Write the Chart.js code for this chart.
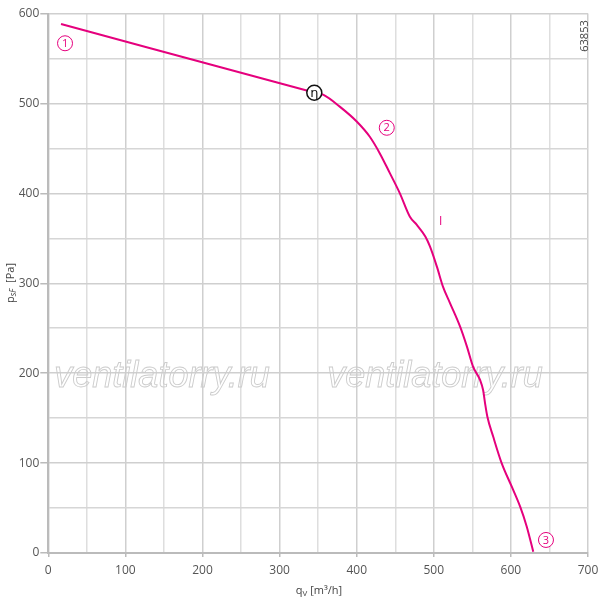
<!DOCTYPE html>
<html>
<head>
<meta charset="utf-8">
<script src="https://cdn.jsdelivr.net/npm/chart.js@4"></script>
<style>
  html, body { margin: 0; padding: 0; background: #fff; }
  #wrap { width: 600px; height: 601px; }
</style>
</head>
<body>
<div id="wrap"><canvas id="fanChart"></canvas></div>
<script>
// Curve: airflow qV [m3/h] vs static pressure psF [Pa]
const flowValues = [16.5, 346, 357, 378, 400, 417, 430, 443, 456, 469, 478, 489, 495, 504, 512, 521, 534, 543, 551, 560, 564, 566.5, 569.5, 577, 588, 601, 612, 620.5, 629];
const pressureValues = [588.5, 512, 509.5, 496.5, 480, 463, 444.5, 422.5, 400, 374, 365, 352, 341, 318.5, 296, 278, 252, 229.5, 207, 192.5, 181, 166.5, 151.5, 129.5, 100, 74, 51.5, 29.5, 1.5];
const xTicks = [0, 100, 200, 300, 400, 500, 600, 700];
const yTicks = [0, 100, 200, 300, 400, 500, 600];

// Marker labels on the curve: [qV, psF, text]
const curveMarks = [[21.7, 567, '1'], [439, 473, '2'], [645.5, 14.5, '3']];
const etaPoint = [345, 512];

const lineColor = '#e5007d';
const tickFont = { family: 'Open Sans', size: 12 };

const overlayPlugin = {
    id: 'overlay',
    beforeDatasetsDraw(chart) {
        const { ctx, scales: { x, y } } = chart;
        // watermark
        ctx.save();
        ctx.font = 'italic 36px "Liberation Sans"';
        ctx.textAlign = 'center';
        ctx.textBaseline = 'middle';
        ctx.strokeStyle = '#cccccc';
        ctx.lineWidth = 0.9;
        ctx.strokeText('ventilatorry.ru', x.getPixelForValue(147.5), y.getPixelForValue(196));
        ctx.strokeText('ventilatorry.ru', x.getPixelForValue(501.5), y.getPixelForValue(196));
        ctx.restore();
    },
    afterDraw(chart) {
        const { ctx, scales: { x, y } } = chart;
        ctx.save();
        ctx.textAlign = 'center';
        ctx.textBaseline = 'middle';

        // numbered circles
        curveMarks.forEach(([qv, p, label]) => {
            const px = x.getPixelForValue(qv), py = y.getPixelForValue(p);
            ctx.beginPath();
            ctx.arc(px, py, 7.5, 0, Math.PI * 2);
            ctx.fillStyle = '#fff';
            ctx.fill();
            ctx.strokeStyle = lineColor;
            ctx.lineWidth = 1;
            ctx.stroke();
            ctx.fillStyle = lineColor;
            ctx.font = '11px "Open Sans"';
            ctx.fillText(label, px, py + 0.5);
        });

        // efficiency point
        const ex = x.getPixelForValue(etaPoint[0]), ey = y.getPixelForValue(etaPoint[1]);
        ctx.beginPath();
        ctx.arc(ex, ey, 7.5, 0, Math.PI * 2);
        ctx.fillStyle = '#fff';
        ctx.fill();
        ctx.strokeStyle = '#111';
        ctx.lineWidth = 1.5;
        ctx.stroke();
        ctx.fillStyle = '#111';
        ctx.font = '13px "DejaVu Sans"';
        ctx.fillText('η', ex, ey + 1);

        // curve id
        ctx.fillStyle = lineColor;
        ctx.font = '12px "Open Sans"';
        ctx.fillText('I', x.getPixelForValue(509), y.getPixelForValue(369));

        // drawing number
        ctx.save();
        ctx.translate(585, 36);
        ctx.rotate(-Math.PI / 2);
        ctx.fillStyle = '#444';
        ctx.font = '11px "Open Sans"';
        ctx.fillText('63853', 0, 0);
        ctx.restore();

        // axis titles with subscripts
        ctx.fillStyle = '#444';
        ctx.textAlign = 'left';
        ctx.textBaseline = 'alphabetic';
        const drawTitle = (parts) => {
            let total = 0;
            parts.forEach(p => { ctx.font = p.font; total += ctx.measureText(p.t).width; });
            let cx = -total / 2;
            parts.forEach(p => {
                ctx.font = p.font;
                ctx.fillText(p.t, cx, p.dy);
                cx += ctx.measureText(p.t).width;
            });
        };
        ctx.save();
        ctx.translate(319, 594);
        drawTitle([
            { t: 'q', font: '11px "Open Sans"', dy: 0 },
            { t: 'V', font: '8px "Open Sans"', dy: 2 },
            { t: ' [m³/h]', font: '11px "Open Sans"', dy: 0 }
        ]);
        ctx.restore();
        ctx.save();
        ctx.translate(14, 283);
        ctx.rotate(-Math.PI / 2);
        drawTitle([
            { t: 'p', font: '11px "Open Sans"', dy: 0 },
            { t: 'sF', font: 'italic 8.5px "Open Sans"', dy: 2 },
            { t: '  [Pa]', font: '11px "Open Sans"', dy: 0 }
        ]);
        ctx.restore();
        ctx.restore();
    }
};

const isMajor = v => Math.round(v) % 100 === 0;

new Chart(document.getElementById('fanChart'), {
    type: 'scatter',
    data: {
        datasets: [{
            data: flowValues.map((v, i) => ({ x: v, y: pressureValues[i] })),
            showLine: true,
            borderColor: lineColor,
            borderWidth: 2,
            pointRadius: 0,
            tension: 0.35,
            cubicInterpolationMode: 'monotone'
        }]
    },
    options: {
        responsive: true,
        maintainAspectRatio: false,
        animation: false,
        layout: { padding: { left: 0, top: 13.6, right: 12, bottom: 0 } },
        scales: {
            x: {
                type: 'linear',
                min: 0,
                max: 700,
                afterFit: scale => {
                    scale.height = 48;
                    scale.paddingLeft = 0;
                    scale.paddingRight = 0;
                },
                afterBuildTicks: scale => {
                    const t = [];
                    for (let v = 0; v <= 700; v += 50) t.push({ value: v });
                    scale.ticks = t;
                },
                ticks: {
                    font: tickFont,
                    color: '#555',
                    padding: 6,
                    maxRotation: 0,
                    autoSkip: false,
                    callback: v => xTicks.includes(v) ? String(v) : ''
                },
                grid: {
                    color: ctx => isMajor(ctx.tick.value) ? '#cfcfcf' : '#dedede',
                    lineWidth: 1.5,
                    tickLength: 4,
                    tickColor: ctx => isMajor(ctx.tick.value) ? '#bbb' : 'rgba(0,0,0,0)'
                },
                border: { color: '#bbb', width: 2 }
            },
            y: {
                type: 'linear',
                min: 0,
                max: 600,
                afterFit: scale => {
                    scale.width = 48.3;
                    scale.paddingTop = 0;
                    scale.paddingBottom = 0;
                },
                afterBuildTicks: scale => {
                    const t = [];
                    for (let v = 0; v <= 600; v += 50) t.push({ value: v });
                    scale.ticks = t;
                },
                ticks: {
                    font: tickFont,
                    color: '#555',
                    padding: 1,
                    autoSkip: false,
                    callback: v => yTicks.includes(v) ? String(v) : ''
                },
                grid: {
                    color: ctx => isMajor(ctx.tick.value) ? '#cfcfcf' : '#d6d6d6',
                    lineWidth: 1.5,
                    tickLength: 8,
                    tickColor: ctx => isMajor(ctx.tick.value) ? '#bbb' : 'rgba(0,0,0,0)'
                },
                border: { color: '#bbb', width: 2 }
            }
        },
        plugins: {
            legend: { display: false },
            tooltip: { enabled: false }
        }
    },
    plugins: [overlayPlugin]
});
</script>
</body>
</html>
